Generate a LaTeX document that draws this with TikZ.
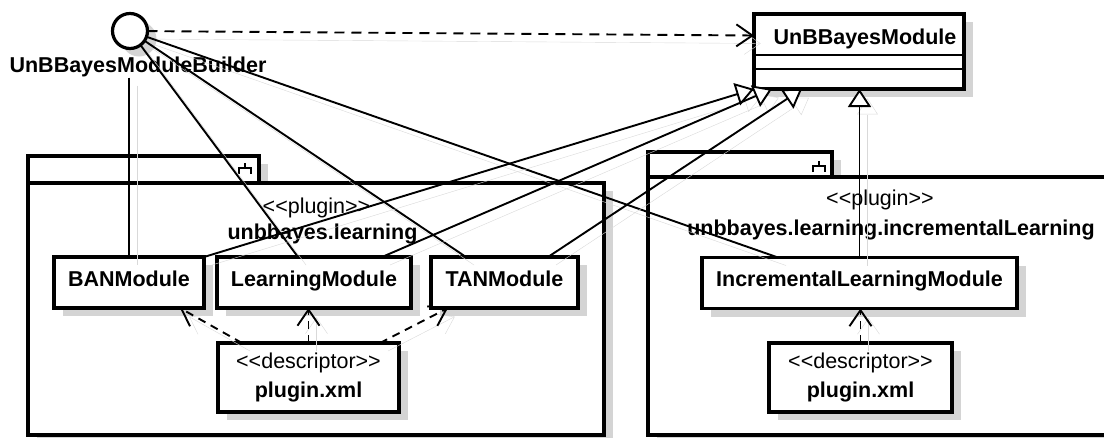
\documentclass[tikz,border=0pt]{standalone}
\usepackage{fontspec}
\setmainfont{Liberation Sans}
\usetikzlibrary{arrows.meta,shadows}
\newcommand\stereo[1]{<\kern0pt<#1>\kern0pt>}

\begin{document}
\begin{tikzpicture}[x=1pt, y=-1pt,
  font=\fontsize{21.5}{29}\selectfont,
  shadowed/.style={drop shadow={opacity=1, fill=black!17, shadow xshift=9pt, shadow yshift=-8pt}},
  box/.style={draw, line width=3.2pt, fill=white, inner sep=0pt, outer sep=0pt, shadowed},
  cls/.style={box, minimum width=#1, minimum height=51pt, text height=11pt, text depth=4pt,
    font=\fontsize{21.5}{29}\selectfont\bfseries},
  desc/.style={box, minimum width=#1, minimum height=69pt, align=center},
  pkg/.style={line width=3.2pt, fill=white, shadowed},
  shd/.style={preaction={draw=black!15, solid, transform canvas={shift={(8pt,-8pt)}}}},
  link/.style={line width=1.9pt, shd},
  real/.style={link, dash pattern=on 10pt off 7pt, -{Straight Barb[length=16pt, width=22pt]}},
  gen/.style={link, -{Triangle[length=18pt, width=23pt, fill=white]}},
  dep/.style={link, dash pattern=on 8pt off 6pt, -{Straight Barb[length=16pt, width=22pt]}},
  lbl/.style={anchor=base, inner sep=1pt}]
  \path[use as bounding box, clip] (0,0) rectangle (1104,437);
  % packages
  \draw[pkg] (28,156) rectangle (259,183);
  \draw[pkg] (28,183) rectangle (604,435);
  \draw[pkg] (648,152) rectangle (832,177);
  \draw[pkg] (648,177) rectangle (1130,435);
  \foreach \x/\y in {245/163, 819/161}
    \draw[line width=1.6pt] (\x,\y) -- ++(0,5) ++(-6,6) -- ++(0,-6) -- ++(12,0) -- ++(0,6);
  \node[lbl] (lpkgst) at (316.5,213) {\stereo{plugin}};
  \node[lbl, font=\fontsize{21.5}{29}\selectfont\bfseries] (lpkgname) at (322.5,239) {unbbayes.learning};
  \node[lbl] (rpkgst) at (880,205) {\stereo{plugin}};
  \node[lbl, font=\fontsize{21.5}{29}\selectfont\bfseries] (rpkgname) at (891,235) {unbbayes.learning.incrementalLearning};
  % interface and super class
  \node[circle, draw, line width=3.2pt, fill=white, minimum size=35pt, inner sep=0pt, outer sep=0pt, shadowed] (bld) at (130,31) {};
  \node[lbl, font=\fontsize{21.5}{29}\selectfont\bfseries] (bldlbl) at (138,72) {UnBBayesModuleBuilder};
  \node[box, minimum width=210pt, minimum height=75pt] (umod) at (859,51.5) {};
  \draw[line width=1.6pt] ([yshift=-3.5pt]umod.west) -- ([yshift=-3.5pt]umod.east);
  \draw[line width=1.6pt] ([yshift=-17.5pt]umod.west) -- ([yshift=-17.5pt]umod.east);
  \node[lbl, font=\fontsize{21.5}{29}\selectfont\bfseries] (umodname) at (865,44) {UnBBayesModule};
  % modules
  \node[cls=150pt] (ban) at (129,282.5) {BANModule};
  \node[cls=194pt] (learn) at (314,282.5) {LearningModule};
  \node[cls=147pt] (tan) at (504.5,282.5) {TANModule};
  \node[cls=315pt] (incr) at (859.5,283) {IncrementalLearningModule};
  \node[desc=181pt] (ldesc) at (308.5,377.5) {\stereo{descriptor}\\\textbf{plugin.xml}};
  \node[desc=183pt] (rdesc) at (860.5,377.5) {\stereo{descriptor}\\\textbf{plugin.xml}};
  % connectors
  \draw[real] (bld) -- ([yshift=16pt]umod.west);
  \draw[link] (ban.north |- bldlbl.south) -- (ban.north);
  \draw[link] (bld) -- ([xshift=-16pt]learn.north);
  \draw[link] (bld) -- ([xshift=-38.5pt]tan.north);
  \draw[link] (bld) -- ([xshift=-81.5pt]incr.north);
  \draw[gen] (ban.north east) -- (umod.south west);
  \draw[gen] ([xshift=68pt]learn.north) -- ([xshift=18pt]umod.south west);
  \draw[gen] ([xshift=43.5pt]tan.north) -- ([xshift=48pt]umod.south west);
  \draw[gen] (incr.north) -- (incr.north |- umod.south);
  \draw[dep] ([xshift=-66.5pt]ldesc.north) -- ([xshift=51pt]ban.south);
  \draw[dep] (ldesc.north) -- (ldesc.north |- learn.south);
  \draw[dep] ([xshift=71.5pt]ldesc.north) -- ([xshift=-56.5pt]tan.south);
  \draw[dep] (rdesc.north) -- (rdesc.north |- incr.south);
\end{tikzpicture}
\end{document}
